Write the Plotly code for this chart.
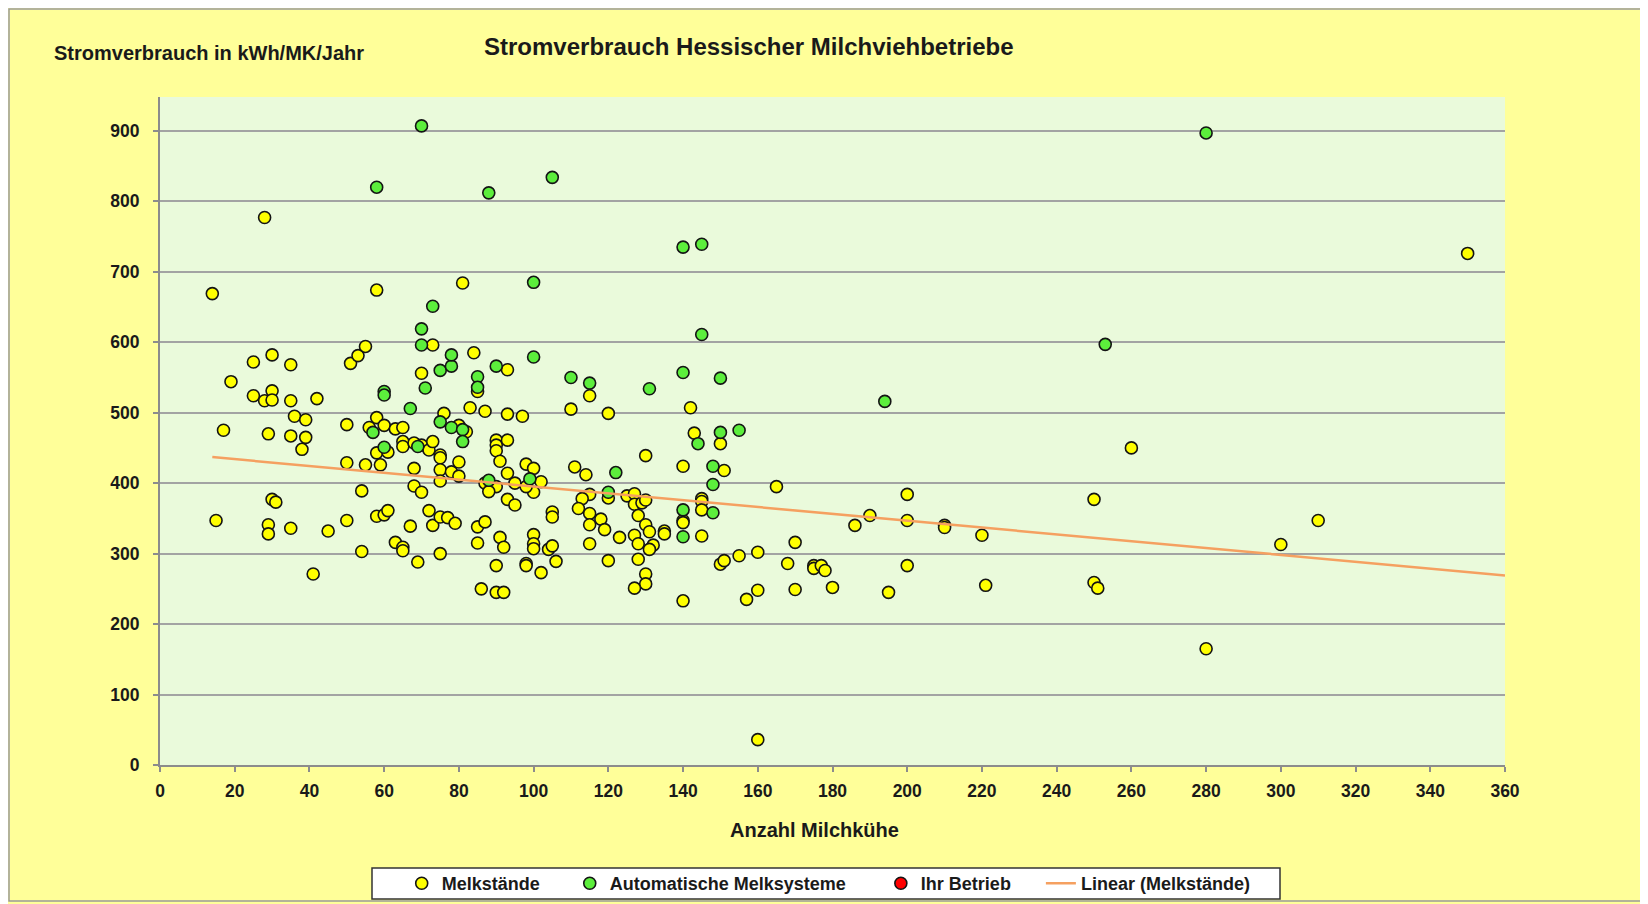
import plotly.graph_objects as go

# ---------------- data ----------------
melk_x = [28, 14, 58, 81,
          19, 25, 30, 35, 25, 28, 30, 30, 35, 42, 36, 39, 17, 29, 35, 39, 38,
          50, 50, 54, 55, 51, 53, 55, 58, 56, 60, 63, 65, 58, 61, 59, 65, 65, 68, 70, 72, 73, 75, 75,
          70, 73, 84, 93, 85, 83, 87, 93, 97, 76, 80, 82, 68, 68, 70, 75, 75, 78, 80, 80, 87, 90, 88,
          90, 90, 90, 91, 93, 93, 95, 98, 100, 100, 102, 98, 93, 95, 105, 105, 110, 111,
          15, 30, 31, 29, 29, 35, 45, 50, 41, 54, 58, 60, 61, 63, 65, 65, 67, 69, 72, 73, 75, 77, 79,
          75, 85, 87, 85, 91, 92, 90, 86, 90, 92, 98, 98, 102, 100, 100, 100, 104, 105, 106,
          115, 120, 142, 143, 150, 130, 140, 151, 165, 114, 120, 115, 113, 112, 125, 127, 127, 129, 130,
          145, 145, 145, 140, 140, 115, 115, 118, 119, 128, 130, 131, 135, 135, 123, 127, 128, 132, 131,
          115, 145, 120, 128, 130, 130, 127, 140, 150, 151, 155, 160, 157, 160, 160, 170, 168, 170, 175,
          175, 177, 178, 180, 186, 190, 195, 200, 200, 200, 210, 210,
          350, 260, 250, 220, 221, 250, 251, 280, 300, 310]
melk_y = [777, 669, 674, 684,
          544, 572, 582, 568, 524, 517, 531, 518, 517, 520, 495, 490, 475, 470, 467, 465, 448,
          483, 429, 389, 426, 570, 581, 594, 493, 479, 482, 477, 479, 443, 444, 426, 459, 452, 457, 454, 447, 459, 440, 436,
          556, 596, 585, 561, 530, 507, 502, 498, 495, 499, 482, 473, 421, 396, 387, 419, 403, 416, 430, 410, 400, 395, 388,
          461, 454, 446, 431, 461, 414, 400, 427, 421, 387, 402, 395, 377, 369, 359, 352, 505, 423,
          347, 377, 373, 341, 328, 336, 332, 347, 271, 303, 353, 355, 361, 316, 309, 304, 339, 288, 361, 340, 352, 351, 343,
          300, 338, 345, 315, 323, 309, 283, 250, 245, 245, 286, 283, 273, 327, 314, 307, 306, 311, 289,
          524, 499, 507, 471, 456, 439, 424, 418, 395, 412, 379, 384, 378, 364, 382, 385, 370, 372, 376,
          378, 374, 362, 347, 344, 357, 341, 349, 334, 354, 341, 331, 332, 328, 323, 326, 314, 312, 306,
          314, 325, 290, 292, 271, 257, 251, 233, 285, 290, 297, 302, 235, 248, 36, 316, 286, 249, 283,
          279, 283, 276, 252, 340, 354, 245, 384, 347, 283, 340, 337,
          726, 450, 377, 326, 255, 259, 251, 165, 313, 347]

ams_x = [70, 58, 88, 105, 100, 73, 70,
         57, 60, 60, 60, 69, 67, 71, 70, 75, 78, 78, 90, 100, 85, 85, 75, 78, 81, 81, 88, 99,
         145, 110, 115, 131, 140, 150, 194, 144, 150, 155, 148, 148, 122, 120, 140, 148, 140, 140, 145,
         280, 253]
ams_y = [907, 820, 812, 834, 685, 651, 619,
         472, 530, 525, 451, 452, 506, 535, 596, 560, 566, 582, 566, 579, 551, 536, 487, 479, 476, 459, 404, 406,
         611, 550, 542, 534, 557, 549, 516, 456, 472, 475, 424, 398, 415, 387, 362, 358, 324, 735, 739,
         897, 597]

trend_x = [14, 360]
trend_y = [437, 269]

title_text = "Stromverbrauch Hessischer Milchviehbetriebe"
y_title = "Stromverbrauch in kWh/MK/Jahr"
x_title = "Anzahl Milchkühe"
series_names = ["Melkstände", "Automatische Melksysteme", "Ihr Betrieb", "Linear (Melkstände)"]

# ---------------- figure ----------------
W, H = 1648, 904
OFF = 8                      # page offset of the figure (body margin)
L, T = 160 - OFF, 97 - OFF   # plot area left/top in figure px
R = W - (1505 - OFF)
B = H - (765 - OFF)
PW, PH = 1345, 668


def px(xp):   # reference page x -> paper fraction
    return (xp - 160) / PW


def py(yp):   # reference page y -> paper fraction
    return (765 - yp) / PH


FONT = "Liberation Sans, Arial, sans-serif"
NB = "\u00a0"
EDGE = "#141414"

fig = go.Figure()
fig.add_trace(go.Scatter(
    x=melk_x, y=melk_y, mode="markers", name=series_names[0] + NB * 5,
    marker=dict(color="#FFFF00", size=12, line=dict(color=EDGE, width=1.6)),
))
fig.add_trace(go.Scatter(
    x=ams_x, y=ams_y, mode="markers", name=series_names[1] + NB * 6,
    marker=dict(color="#5CEE3C", size=12, line=dict(color=EDGE, width=1.6)),
))
fig.add_trace(go.Scatter(
    x=[None], y=[None], mode="markers", name=series_names[2] + NB * 5,
    marker=dict(color="#FF0000", size=12, line=dict(color=EDGE, width=1.6)),
))
fig.add_trace(go.Scatter(
    x=trend_x, y=trend_y, mode="lines", name=series_names[3],
    line=dict(color="#F5A060", width=2.5),
))

fig.update_layout(
    width=W, height=H,
    margin=dict(l=L, r=R, t=T, b=B),
    paper_bgcolor="#FFFF99",
    plot_bgcolor="#EAFADB",
    font=dict(family=FONT, color="#1a1a1a"),
    showlegend=True,
    legend=dict(
        orientation="h",
        xref="container", yref="container",
        x=(401.7 - OFF) / W, xanchor="left",
        y=1 - (883.5 - OFF) / H, yanchor="middle",
        bgcolor="rgba(0,0,0,0)", borderwidth=0,
        font=dict(family=FONT, size=18, color="#1a1a1a", weight="bold"),
        traceorder="normal",
    ),
    xaxis=dict(
        range=[0, 360], tick0=0, dtick=20, showgrid=False, zeroline=False,
        showline=True, linecolor="#8c8c8c", linewidth=2,
        ticks="outside", ticklen=5, tickwidth=1.5, tickcolor="#8c8c8c",
        tickfont=dict(family=FONT, size=17.5, color="#1a1a1a", weight="bold"),
        ticklabelstandoff=4,
    ),
    yaxis=dict(
        range=[0, 948], tick0=0, dtick=100, showgrid=True, gridcolor="#a3a3a3", gridwidth=2,
        zeroline=False, showline=True, linecolor="#8c8c8c", linewidth=2,
        ticks="outside", ticklen=5, tickwidth=1.5, tickcolor="#8c8c8c",
        tickfont=dict(family=FONT, size=17.5, color="#1a1a1a", weight="bold"),
        ticklabelstandoff=10,
    ),
    annotations=[
        dict(text=title_text, xref="paper", yref="paper", x=px(482), y=py(47),
             xanchor="left", yanchor="middle", showarrow=False,
             font=dict(family=FONT, size=24, color="#1a1a1a", weight="bold")),
        dict(text=y_title, xref="paper", yref="paper", x=px(51.7), y=py(53),
             xanchor="left", yanchor="middle", showarrow=False,
             font=dict(family=FONT, size=20, color="#1a1a1a", weight="bold")),
        dict(text=x_title, xref="paper", yref="paper", x=px(728), y=py(829.5),
             xanchor="left", yanchor="middle", showarrow=False,
             font=dict(family=FONT, size=20, color="#1a1a1a", weight="bold")),
    ],
    shapes=[
        dict(type="rect", xref="paper", yref="paper",
             x0=px(372), x1=px(1280), y0=py(899), y1=py(868),
             fillcolor="white", line=dict(color="#333333", width=1.5), layer="above"),
        dict(type="rect", xref="paper", yref="paper",
             x0=px(OFF + 1), x1=px(W - 2), y0=py(H - 3), y1=py(OFF + 1),
             fillcolor="rgba(0,0,0,0)", line=dict(color="#9a9a9a", width=1.5), layer="above"),
    ],
)

fig.write_html("out.html")
